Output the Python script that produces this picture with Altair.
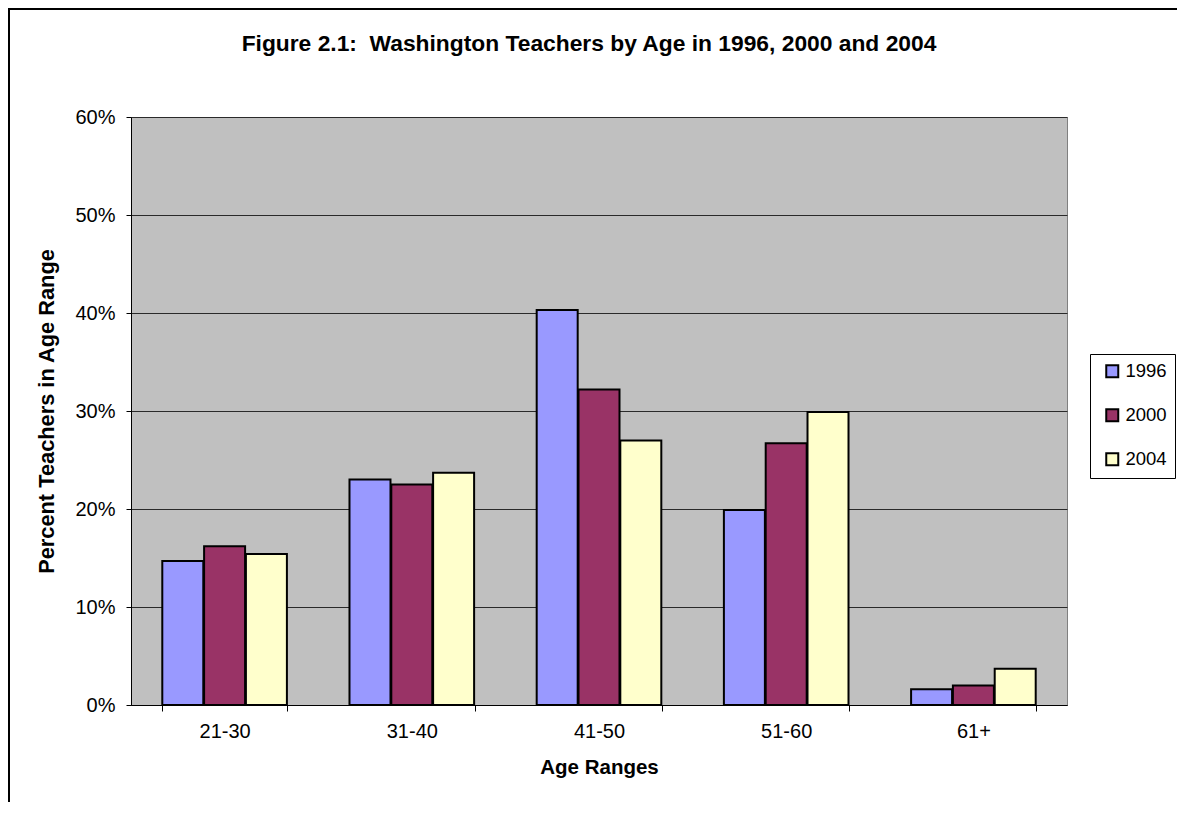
import altair as alt
import pandas as pd

ages = ["21-30", "31-40", "41-50", "51-60", "61+"]
years = ["1996", "2000", "2004"]
v1996 = [0.147, 0.230, 0.403, 0.199, 0.016]
v2000 = [0.162, 0.225, 0.322, 0.267, 0.020]
v2004 = [0.154, 0.237, 0.270, 0.299, 0.037]
colors = ["#9999FF", "#993366", "#FFFFCC"]

rows = []
for y, vals in zip(years, [v1996, v2000, v2004]):
    for a, v in zip(ages, vals):
        rows.append({"age": a, "year": y, "pct": v})
df = pd.DataFrame(rows)

FONT = "Liberation Sans"

bars = alt.Chart(df).mark_bar(stroke="black", strokeWidth=2, size=41).encode(
    x=alt.X("age:N", sort=ages, title="Age Ranges",
            scale=alt.Scale(paddingInner=0.33, paddingOuter=0.165),
            axis=alt.Axis(labelAngle=0, tickBand="extent", tickSize=6, tickColor="black",
                          domainColor="black", labelFontSize=20, labelPadding=10,
                          titleFontSize=20.5, titleFontWeight="bold", titlePadding=16,
                          labelFont=FONT, titleFont=FONT, labelColor="black", titleColor="black")),
    xOffset=alt.XOffset("year:N", sort=years, scale=alt.Scale(paddingInner=0, paddingOuter=0)),
    y=alt.Y("pct:Q", title="Percent Teachers in Age Range",
            scale=alt.Scale(domain=[0, 0.6], nice=False),
            axis=alt.Axis(format="%", values=[0, 0.1, 0.2, 0.3, 0.4, 0.5, 0.6],
                          grid=True, gridColor="#2a2a2a", gridWidth=1, gridOpacity=1,
                          tickSize=5, tickColor="black", domainColor="black",
                          labelFontSize=20, labelPadding=11, titleFontSize=21.8,
                          titleFontWeight="bold", titlePadding=16,
                          labelFont=FONT, titleFont=FONT, labelColor="black", titleColor="black")),
    fill=alt.Fill("year:N", sort=years, scale=alt.Scale(domain=years, range=colors),
                  legend=alt.Legend(title=None, orient="none", legendX=959, legendY=237,
                                    symbolType="square", symbolSize=144, symbolStrokeColor="black",
                                    symbolStrokeWidth=2, symbolOffset=5, labelFontSize=18.5,
                                    labelFont=FONT, labelColor="black", rowPadding=23,
                                    padding=8, strokeColor="black", fillColor="white",
                                    labelOffset=4)),
)

border = alt.Chart(pd.DataFrame({"a": [0]})).mark_rect(
    fill="transparent", stroke="black", strokeWidth=2, strokeOpacity=1, clip=False
).encode(x=alt.value(-122), x2=alt.value(1085), y=alt.value(-108), y2=alt.value(715))

chart = alt.layer(border, bars).properties(
    width=936, height=588,
    background="white",
    title=alt.TitleParams("Figure 2.1:\u00a0 Washington Teachers by Age in 1996, 2000 and 2004",
                          fontSize=22.8, font=FONT, fontWeight="bold", color="black",
                          anchor="middle", offset=-48, dx=-10),
    padding={"left": 123, "top": 109, "right": 110, "bottom": 97},
    autosize=alt.AutoSizeParams(type="none"),
).configure_view(fill="#C0C0C0", stroke="#808080", strokeWidth=1)

chart.save("out.html", embed_options={"renderer": "svg", "actions": False})
